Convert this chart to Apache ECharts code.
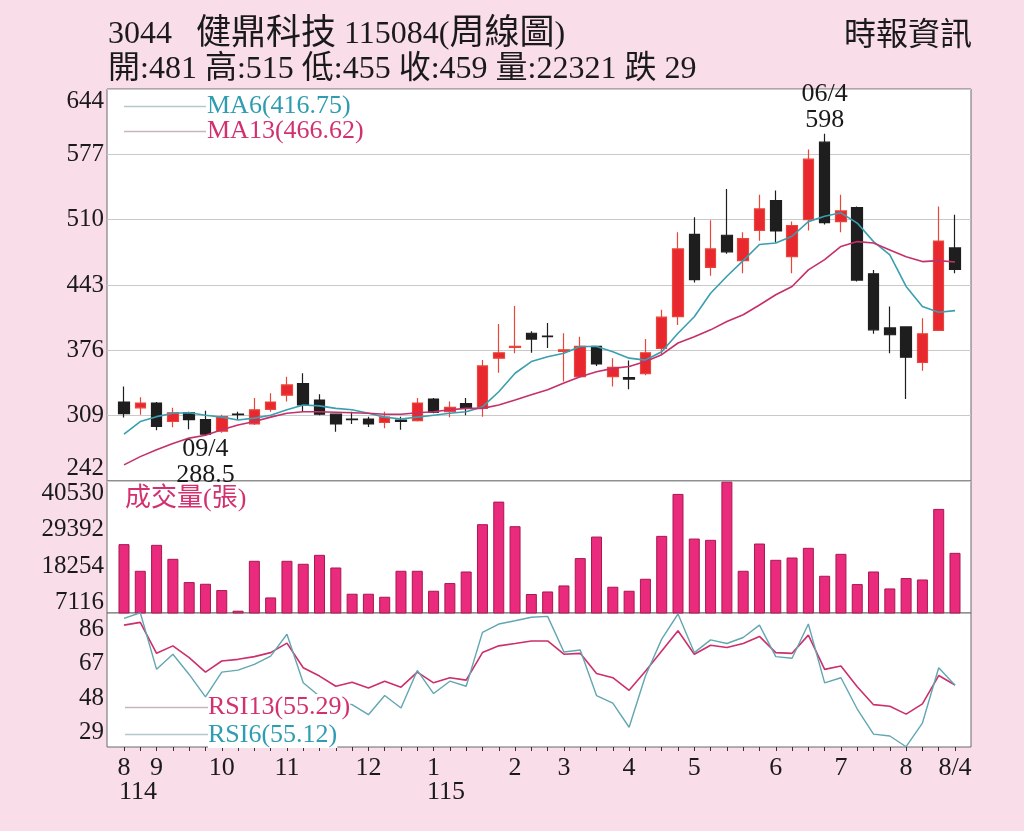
<!DOCTYPE html>
<html>
<head>
<meta charset="utf-8">
<script src="https://cdn.jsdelivr.net/npm/echarts@6/dist/echarts.min.js"></script>
<style>
html, body { margin: 0; padding: 0; background: #f9dde8; }
#chart { width: 1024px; height: 831px; }
</style>
</head>
<body>
<div id="chart"></div>
<script>
// 健鼎 3044 周線圖

const weeks = [
    '114/08/4', '114/08/5',
    '114/09/1', '114/09/2', '114/09/3', '114/09/4',
    '114/10/1', '114/10/2', '114/10/3', '114/10/4',
    '114/11/1', '114/11/2', '114/11/3', '114/11/4', '114/11/5',
    '114/12/1', '114/12/2', '114/12/3', '114/12/4',
    '115/01/1', '115/01/2', '115/01/3', '115/01/4', '115/01/5',
    '115/02/1', '115/02/2', '115/02/3',
    '115/03/1', '115/03/2', '115/03/3', '115/03/4',
    '115/04/1', '115/04/2', '115/04/3', '115/04/4',
    '115/05/1', '115/05/2', '115/05/3', '115/05/4', '115/05/5',
    '115/06/1', '115/06/2', '115/06/3', '115/06/4',
    '115/07/1', '115/07/2', '115/07/3', '115/07/4',
    '115/08/1', '115/08/2', '115/08/3', '115/08/4'
];

const xTickLabels = [
    '8', '', '9', '', '', '', '10', '', '', '', '11', '', '', '', '',
    '12', '', '', '', '1', '', '', '', '', '2', '', '', '3', '', '', '',
    '4', '', '', '', '5', '', '', '', '', '6', '', '', '', '7', '', '', '',
    '8', '', '', '8/4'
];

const opens = [323, 317, 322, 303, 312, 305, 293, 310.5, 300.5, 315.5, 330, 342, 325, 310.5, 305.5, 305.5, 302, 304.5, 304, 326,
    313, 321.5, 316.5, 368, 379, 393.5, 390.5, 375, 349, 380, 349, 348, 352, 378, 410.5, 495, 461, 494, 468, 499,
    529.5, 472, 510, 589.5, 508, 522.5, 454.5, 399, 400, 363.5, 396.5, 481];
const closes = [311, 322, 298, 312, 305, 290, 308, 310, 315, 323, 340.5, 320, 310.5, 300.5, 305, 300.5, 307.5, 303, 322, 312.5,
    317.5, 316.5, 360, 373.5, 380, 387.5, 390, 376.5, 380, 362, 358.5, 346.5, 373.5, 410, 480, 448.5, 480, 477, 490.5, 521,
    498.5, 504, 572, 507, 519, 448, 397, 392, 369, 393, 488, 459];
const lows = [307, 310, 294, 297, 295, 288.5, 291.5, 304.5, 299.5, 313, 323.5, 313, 309.5, 292.5, 300.5, 297.5, 296, 294.5, 303, 311.5,
    307.5, 309.5, 308, 353, 373, 373.5, 378.5, 344, 349, 360, 339, 336, 350.5, 372, 402, 445.5, 452.5, 475, 455, 488.5,
    486.5, 455, 499, 505, 497, 446.5, 393, 373, 326, 355, 396, 455];
const highs = [339, 328, 323, 317, 313, 314, 310, 313, 327, 332, 349, 352.5, 331, 311, 313, 308, 313, 308, 327, 327,
    323.5, 327, 366, 403, 421.5, 395.5, 404, 393.5, 390, 380.5, 368, 365.5, 387.5, 417.5, 497, 512.5, 509.5, 541.5, 497, 535.5,
    540, 508, 582, 598, 535.5, 523.5, 458.5, 421, 400.5, 409, 523.5, 515];

const ma6 = [290, 303, 308, 311.5, 312, 309.5, 307.5, 304.5, 306.5, 309.5, 315, 320, 319, 316.5, 315, 311.5, 307.5, 305.5, 307.5, 309.5,
    311.5, 313, 318, 333.5, 352.5, 364.5, 369.5, 373, 380, 380, 374.5, 368, 366, 374.5, 393.5, 410.5, 434.5, 452, 468, 484.5,
    486, 493, 508, 513.5, 517, 506.5, 487.5, 474, 441.5, 421, 415, 416.75];
const ma13 = [258.5, 267, 274, 280.5, 286, 289, 294.5, 299.5, 303, 307.5, 311.5, 313, 313, 312.5, 312, 311.5, 310.5, 310.5, 312, 313,
    315, 316.5, 316.5, 320, 325, 330.5, 335.5, 342.5, 349, 354, 357.5, 359.5, 364.5, 371.5, 383.5, 390, 397, 405.5, 412.5, 422.5,
    433, 441.5, 458.5, 469, 482.5, 487.5, 486, 479, 472, 467, 468, 466.62];

const volumes = [24970, 16860, 24760, 20500, 13420, 12900, 10990, 4700, 19900, 8740, 19900, 18990, 21720, 17860, 9870, 9870, 8950, 16860, 16860, 10780,
    13120, 16640, 31050, 37920, 30440, 9780, 10560, 12390, 20720, 27280, 12000, 10780, 14430, 27490, 40260, 26670, 26280, 44000, 16860, 25160,
    20200, 20900, 23850, 15340, 22020, 12810, 16640, 11480, 14640, 14210, 35700, 22321];

const rsi6 = [91.9, 95, 63.9, 72.2, 61.1, 48.8, 62.4, 63.5, 66.6, 71.2, 83.2, 56.5, 49.1, 46.3, 44.5, 39, 49.5, 42.7, 63.3, 50.6,
    57.4, 54.6, 84.2, 88.8, 90.6, 92.5, 93, 73.4, 74.5, 49.5, 45.4, 32.1, 60.2, 80.5, 94.3, 73.1, 80.1, 78.1, 81.4, 88.2,
    70.9, 70, 88.8, 56.5, 59.3, 42.1, 28.3, 27.3, 21.4, 34.4, 64.8, 55.12];
const rsi13 = [88.2, 89.7, 72.7, 76.8, 70.3, 62.4, 68.5, 69.4, 70.9, 73.1, 78.3, 64.8, 60.2, 54.6, 56.8, 53.7, 57.4, 54.1, 62.4, 56.5,
    59.3, 58, 73.1, 76.8, 78.1, 79.5, 79.5, 72.2, 72.7, 61.6, 59.3, 52.4, 62.9, 74, 85.1, 72.2, 77.1, 75.9, 78.1, 82,
    73.1, 72.7, 82.7, 63.9, 65.7, 54.3, 44.5, 43.6, 39.3, 44.9, 60.5, 55.29];

const volTicks = [7116, 18254, 29392, 40530];
const rsiTicks = [29, 48, 67, 86];

const SERIF = '"Liberation Serif", "Noto Sans CJK TC", serif';
const TEAL = '#2f9cb2';
const MAGENTA = '#d2306f';

const chart = echarts.init(document.getElementById('chart'));

const candleData = weeks.map((w, i) => [opens[i], closes[i], lows[i], highs[i]]);
const peakIdx = highs.indexOf(Math.max(...highs));
const lowIdx = lows.indexOf(Math.min(...lows));

const frame = { show: true, backgroundColor: '#fff', borderColor: '#6a6a6a', borderWidth: 1 };
const axisFont = { fontFamily: SERIF, fontSize: 25, color: '#1a1a1a' };
const plain = v => String(v);

function hiddenValueX(gi) {
    return { type: 'value', gridIndex: gi, show: false };
}
function dataX(gi, showLabels) {
    return {
        type: 'category', gridIndex: gi, data: weeks, boundaryGap: true,
        axisLine: { show: false },
        axisTick: { show: showLabels, interval: 0, alignWithLabel: true, length: 4, lineStyle: { color: '#333' } },
        axisLabel: {
            show: showLabels, interval: 0, margin: 8, ...axisFont, fontSize: 26,
            formatter: (v, i) => xTickLabels[i]
        },
        splitLine: { show: false }
    };
}

const option = {
    backgroundColor: '#f9dde8',
    animation: false,
    grid: [
        { left: 107, top: 89, width: 864, height: 392, ...frame },
        { left: 107, top: 481, width: 864, height: 132, ...frame },
        { left: 107, top: 613, width: 864, height: 134, ...frame },
        { left: 115.85, top: 89, width: 847.3, height: 392 },
        { left: 115.85, top: 481, width: 847.3, height: 132 },
        { left: 115.85, top: 613, width: 847.3, height: 134 }
    ],
    xAxis: [
        hiddenValueX(0), hiddenValueX(1), hiddenValueX(2),
        dataX(3, false), dataX(4, false), dataX(5, true)
    ],
    yAxis: [
        {
            type: 'value', gridIndex: 0, min: 242, max: 644, interval: 67,
            axisLine: { show: false }, axisTick: { show: false },
            axisLabel: { ...axisFont, margin: 3, formatter: plain, verticalAlignMaxLabel: 'top', verticalAlignMinLabel: 'bottom' },
            splitLine: { show: true, lineStyle: { color: '#c9c9c9', width: 1 } }
        },
        {
            type: 'value', gridIndex: 1, min: 4000, max: 44200,
            axisLine: { show: false }, axisTick: { show: false },
            axisLabel: { ...axisFont, margin: 3, formatter: plain, customValues: volTicks },
            splitLine: { show: false }
        },
        {
            type: 'value', gridIndex: 2, min: 21.25, max: 94.85,
            axisLine: { show: false }, axisTick: { show: false },
            axisLabel: { ...axisFont, margin: 3, formatter: plain, customValues: rsiTicks },
            splitLine: { show: false }
        },
        { type: 'value', gridIndex: 3, min: 242, max: 644, show: false, splitLine: { show: false } },
        { type: 'value', gridIndex: 4, min: 4000, max: 44200, show: false, splitLine: { show: false } },
        { type: 'value', gridIndex: 5, min: 21.25, max: 94.85, show: false, splitLine: { show: false } }
    ],
    series: [
        {
            name: 'K', type: 'candlestick', xAxisIndex: 3, yAxisIndex: 3,
            barWidth: 11, data: candleData,
            itemStyle: {
                color: '#e8282e', color0: '#1e1e1e',
                borderColor: '#e8463a', borderColor0: '#1e1e1e', borderWidth: 1.2
            },
            markPoint: {
                symbol: 'rect', symbolSize: 0,
                label: {
                    show: true, fontFamily: SERIF, fontSize: 26, lineHeight: 26, color: '#1a1a1a'
                },
                data: [
                    {
                        coord: [weeks[peakIdx], highs[peakIdx]],
                        label: { position: 'top', distance: 1, formatter: weeks[peakIdx].slice(4) + '\n' + highs[peakIdx] }
                    },
                    {
                        coord: [weeks[lowIdx], lows[lowIdx]],
                        label: { position: 'bottom', distance: 1, formatter: weeks[lowIdx].slice(4) + '\n' + lows[lowIdx] }
                    }
                ]
            }
        },
        {
            name: 'MA6', type: 'line', xAxisIndex: 3, yAxisIndex: 3, data: ma6, z: 4,
            symbol: 'none', lineStyle: { color: '#3a9fae', width: 1.6 }
        },
        {
            name: 'MA13', type: 'line', xAxisIndex: 3, yAxisIndex: 3, data: ma13, z: 4,
            symbol: 'none', lineStyle: { color: '#c4306a', width: 1.6 }
        },
        {
            name: '成交量', type: 'bar', xAxisIndex: 4, yAxisIndex: 4, data: volumes,
            barWidth: 11,
            itemStyle: { color: '#ea2a7c', borderColor: '#a81850', borderWidth: 1 }
        },
        {
            name: 'RSI13', type: 'line', xAxisIndex: 5, yAxisIndex: 5, data: rsi13,
            symbol: 'none', lineStyle: { color: '#cc2f6a', width: 1.6 }
        },
        {
            name: 'RSI6', type: 'line', xAxisIndex: 5, yAxisIndex: 5, data: rsi6,
            symbol: 'none', lineStyle: { color: '#62a6b2', width: 1.4 }
        }
    ],
    graphic: [
        {
            type: 'text', left: 108, top: 17, z: 100,
            style: {
                text: '3044   {c|健鼎科技} 115084({c|周線圖})',
                font: '32px ' + SERIF, fill: '#1a1a1a',
                rich: { c: { fontSize: 35, fontFamily: SERIF, fill: '#1a1a1a' } }
            }
        },
        {
            type: 'text', left: 108, top: 54, z: 100,
            style: { text: '開:481 高:515 低:455 收:459 量:22321 跌 29', font: '32px ' + SERIF, fill: '#1a1a1a' }
        },
        {
            type: 'text', right: 52, top: 21, z: 100,
            style: { text: '時報資訊', font: '32px ' + SERIF, fill: '#1a1a1a' }
        },
        // MA legend
        { type: 'line', z: 100, shape: { x1: 124, y1: 106.5, x2: 206, y2: 106.5 }, style: { stroke: '#b3c8cb', lineWidth: 1.5 } },
        { type: 'line', z: 100, shape: { x1: 124, y1: 131.5, x2: 206, y2: 131.5 }, style: { stroke: '#cbb3be', lineWidth: 1.5 } },
        {
            type: 'text', left: 207, top: 93, z: 100,
            style: { text: 'MA6(' + ma6[ma6.length - 1] + ')', font: '26px ' + SERIF, fill: TEAL }
        },
        {
            type: 'text', left: 207, top: 118, z: 100,
            style: { text: 'MA13(' + ma13[ma13.length - 1] + ')', font: '26px ' + SERIF, fill: MAGENTA }
        },
        {
            type: 'text', left: 125, top: 486, z: 100,
            style: { text: '成交量(張)', font: '26px ' + SERIF, fill: MAGENTA }
        },
        // RSI legend
        { type: 'line', z: 100, shape: { x1: 125, y1: 707.5, x2: 208, y2: 707.5 }, style: { stroke: '#cbb3be', lineWidth: 1.5 } },
        { type: 'line', z: 100, shape: { x1: 125, y1: 734.5, x2: 208, y2: 734.5 }, style: { stroke: '#b3c8cb', lineWidth: 1.5 } },
        {
            type: 'text', left: 208, top: 694, z: 100,
            style: { text: 'RSI13(' + rsi13[rsi13.length - 1] + ')', font: '26px ' + SERIF, fill: MAGENTA, backgroundColor: '#fff' }
        },
        {
            type: 'text', left: 208, top: 722, z: 100,
            style: { text: 'RSI6(' + rsi6[rsi6.length - 1] + ')', font: '26px ' + SERIF, fill: TEAL, backgroundColor: '#fff' }
        },
        // ROC year under the month labels
        {
            type: 'text', left: 119, top: 779, z: 100,
            style: { text: '114', font: '26px ' + SERIF, fill: '#1a1a1a' }
        },
        {
            type: 'text', left: 427, top: 779, z: 100,
            style: { text: '115', font: '26px ' + SERIF, fill: '#1a1a1a' }
        }
    ]
};

chart.setOption(option);
</script>
</body>
</html>
